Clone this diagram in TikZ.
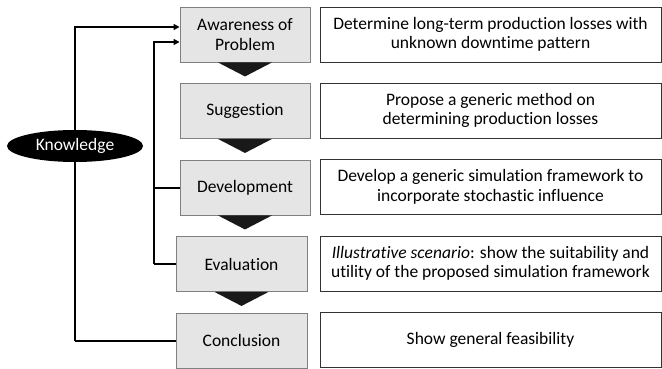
\documentclass[tikz,border=0pt]{standalone}
\usepackage{fontspec}
\setmainfont{Carlito}[Ligatures=NoCommon]
\usetikzlibrary{arrows.meta,shapes.geometric,calc}
\begin{document}
\begin{tikzpicture}[x=1pt,y=-1pt,
  txt/.style={font=\fontsize{17.5}{19.5}\selectfont},
  phase/.style={txt,draw=black!50,fill=black!10,line width=0.9pt,minimum width=130pt,minimum height=55pt,inner sep=0pt,align=center},
  detail/.style={txt,draw=black!80,fill=white,line width=0.9pt,minimum width=341pt,minimum height=55pt,inner sep=0pt,align=center},
  flow/.style={line width=2pt,line join=miter},
  feed/.style={flow,-{Triangle[length=6pt,width=6pt]}},
  step tri/.style={fill=black!90}]
\useasboundingbox (0,0) rectangle (662,369);

% phases of the method
\node[phase] (aw) at (245,34.5) {Awareness of\\Problem};
\node[phase] (su) at (245,111) {Suggestion};
\node[phase] (de) at (245,187.5) {Development};
\node[phase,minimum width=131pt] (ev) at (241.5,264) {Evaluation};
\node[phase,minimum width=131pt] (co) at (241.5,340.5) {Conclusion};

% descriptions
\node[detail] (d1) at (490.5,34.5) {Determine long-term production losses with\\unknown downtime pattern};
\node[detail] (d2) at (490.5,110.5) {Propose a generic method on\\determining production losses};
\node[detail] (d3) at (490.5,187) {Develop a generic simulation framework to\\incorporate stochastic influence};
\node[detail] (d4) at (490.5,263.5) {\textit{Illustrative scenario}: show the suitability and\\utility of the proposed simulation framework};
\node[detail] (d5) at (490.5,339.5) {Show general feasibility};

% downward step markers
\foreach \n in {aw,su,de,ev}{
  \fill[step tri] ($(\n.south)+(-27,0)$) -- ($(\n.south)+(27,0)$) -- ($(\n.south)+(0,14)$) -- cycle;
}

% knowledge feedback loops
\coordinate (kt) at (75,27);
\coordinate (kb) at (75,341);
\coordinate (it) at (154,42);
\coordinate (ib) at (154,264);
\draw[feed] (kb) -- (kt) -- (aw.west |- kt);
\draw[flow] (kb) -- (co.west |- kb);
\draw[feed] (ib) -- (it) -- (aw.west |- it);
\draw[flow] (it |- de.west) -- (de.west);
\draw[flow] (ib) -- (ev.west |- ib);

\node[txt,ellipse,fill=black,text=white,minimum width=136pt,minimum height=32pt,inner sep=0pt] (kn) at (75,146) {Knowledge};
\end{tikzpicture}
\end{document}
